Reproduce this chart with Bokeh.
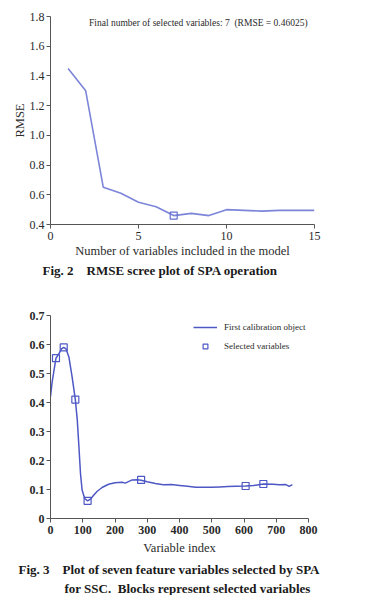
from bokeh.plotting import figure
from bokeh.layouts import column
from bokeh.models import Label, Title, Legend, LegendItem, FixedTicker
from bokeh.embed import file_html
from bokeh.resources import INLINE

# ---- Fig. 2 data ----
n_vars = list(range(1, 16))
rmse = [1.45, 1.30, 0.65, 0.61, 0.55, 0.52, 0.46, 0.475, 0.46, 0.50, 0.495, 0.49, 0.495, 0.495, 0.495]
sel_n = [7]
sel_rmse = [0.46025]
x1_ticks = [0, 5, 10, 15]
y1_ticks = [0.4, 0.6, 0.8, 1.0, 1.2, 1.4, 1.6, 1.8]
y1_labels = ["0.4", "0.6", "0.8", "1.0", "1.2", "1.4", "1.6", "1.8"]

# ---- Fig. 3 data ----
var_index = [0, 5, 10, 17, 26, 34, 41, 48, 57, 67, 77, 83, 88, 93, 98, 106, 115, 125, 135, 145,
             160, 180, 200, 222, 232, 253, 270, 281, 300, 325, 350, 375, 400, 425, 450, 475, 500,
             525, 550, 575, 605, 630, 660, 690, 710, 730, 740, 750]
calib = [0.42, 0.47, 0.505, 0.553, 0.568, 0.585, 0.59, 0.585, 0.557, 0.488, 0.41, 0.34, 0.25,
         0.155, 0.098, 0.069, 0.061, 0.068, 0.082, 0.094, 0.107, 0.118, 0.123, 0.125, 0.122,
         0.133, 0.134, 0.132, 0.127, 0.121, 0.116, 0.117, 0.114, 0.111, 0.108, 0.108, 0.108,
         0.109, 0.110, 0.111, 0.112, 0.114, 0.119, 0.118, 0.116, 0.117, 0.111, 0.117]
sel_index = [17, 41, 77, 115, 281, 605, 660]
sel_value = [0.553, 0.59, 0.41, 0.061, 0.133, 0.112, 0.119]
x2_ticks = [0, 100, 200, 300, 400, 500, 600, 700, 800]
y2_ticks = [0, 0.1, 0.2, 0.3, 0.4, 0.5, 0.6, 0.7]
y2_labels = ["0", "0.1", "0.2", "0.3", "0.4", "0.5", "0.6", "0.7"]

FONT = "Liberation Serif"
AX = "#555555"
TXT = "#2a2a2a"
NB = "\u00a0"


def style_axes(p, bold_ticks=False):
    for ax in (p.xaxis[0], p.yaxis[0]):
        ax.axis_line_color = AX
        ax.major_tick_line_color = AX
        ax.minor_tick_line_color = None
        ax.major_tick_in = 0
        ax.major_tick_out = 4
        ax.major_label_text_font = FONT
        ax.major_label_text_font_size = "12px"
        ax.major_label_text_color = TXT
        ax.major_label_text_font_style = "bold" if bold_ticks else "normal"
        ax.axis_label_text_font = FONT
        ax.axis_label_text_font_size = "12.5px"
        ax.axis_label_text_font_style = "normal"
        ax.axis_label_text_color = TXT
        ax.major_label_standoff = 3
        ax.axis_label_standoff = 4
    p.yaxis[0].major_label_standoff = 2
    p.yaxis[0].axis_label_standoff = 0
    p.grid.visible = False
    p.outline_line_color = None


# ---------------- Figure 2 ----------------
p1 = figure(frame_width=264, frame_height=208, x_range=(0, 15), y_range=(0.4, 1.8),
            output_backend="svg", toolbar_location=None,
            min_border_left=50, min_border_top=16, min_border_right=30, min_border_bottom=61,
            x_axis_label="Number of variables included in the model", y_axis_label="RMSE")
p1.line(n_vars, rmse, line_color="#7c85d8", line_width=1.6)
p1.scatter(sel_n, sel_rmse, marker="square", size=7, fill_color=None,
           line_color="#6570d0", line_width=1.2)
p1.xaxis.ticker = FixedTicker(ticks=x1_ticks)
p1.yaxis.ticker = FixedTicker(ticks=y1_ticks)
p1.yaxis.major_label_overrides = {t: l for t, l in zip(y1_ticks, y1_labels)}
style_axes(p1)
p1.xaxis[0].axis_label_standoff = 1
p1.add_layout(Label(x=8.4, y=1.753, text="Final number of selected variables: 7" + NB + NB + "(RMSE = 0.46025)",
                    text_font=FONT, text_font_size="9.5px", text_color=TXT,
                    text_align="center", text_baseline="middle"))
p1.add_layout(Title(text="Fig. 2" + NB * 4 + "RMSE scree plot of SPA operation", align="left", offset=-8,
                    standoff=0, text_font=FONT, text_font_size="13px", text_font_style="bold",
                    text_color="#1a1a1a"), "below")

# ---------------- Figure 3 ----------------
p2 = figure(frame_width=258, frame_height=203, x_range=(0, 800), y_range=(0, 0.7),
            output_backend="svg", toolbar_location=None,
            min_border_left=42, min_border_top=30, min_border_right=44, min_border_bottom=76,
            x_axis_label="Variable index")
r_line = p2.line(var_index, calib, line_color="#4e58c4", line_width=1.5)
r_sel = p2.scatter(sel_index, sel_value, marker="square", size=7, fill_color=None,
                   line_color="#4e58c4", line_width=1.2)
p2.xaxis.ticker = FixedTicker(ticks=x2_ticks)
p2.yaxis.ticker = FixedTicker(ticks=y2_ticks)
p2.yaxis.major_label_overrides = {t: l for t, l in zip(y2_ticks, y2_labels)}
style_axes(p2, bold_ticks=True)

legend = Legend(items=[LegendItem(label="First calibration object", renderers=[r_line]),
                       LegendItem(label="Selected variables", renderers=[r_sel])],
                location=(143, 166), padding=0, margin=0, spacing=7,
                glyph_width=24, glyph_height=12, label_height=12, label_standoff=7,
                label_text_font=FONT, label_text_font_size="9px", label_text_color=TXT,
                border_line_color=None, background_fill_alpha=0)
p2.add_layout(legend)

p2.add_layout(Title(text="Fig. 3" + NB * 4 + "Plot of seven feature variables selected by SPA", align="left",
                    offset=-32, standoff=4, text_font=FONT, text_font_size="13px", text_font_style="bold",
                    text_color="#1a1a1a"), "below")
p2.add_layout(Title(text="for SSC." + NB * 2 + "Blocks represent selected variables", align="left",
                    offset=14, standoff=0, text_font=FONT, text_font_size="13px", text_font_style="bold",
                    text_color="#1a1a1a"), "below")

layout = column(p1, p2, spacing=0)
open("out.html", "w").write(file_html(layout, INLINE))
